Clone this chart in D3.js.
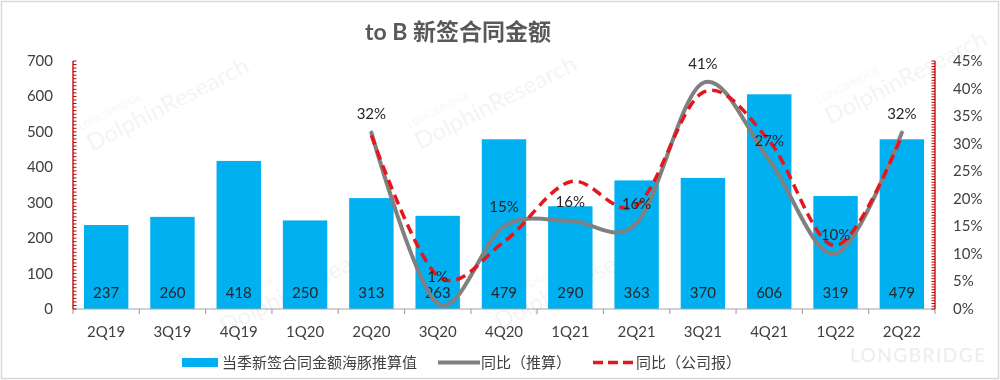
<!DOCTYPE html>
<html>
<head>
<meta charset="utf-8">
<script src="https://cdn.jsdelivr.net/npm/d3@7/dist/d3.min.js"></script>
<style>
  html, body { margin: 0; padding: 0; background: #fff; }
  svg { display: block; font-family: Lato, "Noto Sans CJK SC", sans-serif; }
</style>
</head>
<body>
<svg id="chart" width="1000" height="380"></svg>
<script>
const categories = ["2Q19","3Q19","4Q19","1Q20","2Q20","3Q20","4Q20","1Q21","2Q21","3Q21","4Q21","1Q22","2Q22"];
const contractValues = [237, 260, 418, 250, 313, 263, 479, 290, 363, 370, 606, 319, 479];
const yoyEstimate = [null, null, null, null, 32, 1, 15, 16, 15.6, 41, 27, 10, 32];
const yoyEstimateLabels = [null, null, null, null, "32%", "1%", "15%", "16%", "16%", "41%", "27%", "10%", "32%"];
const yoyReported = [null, null, null, null, 31.5, 6, 12.2, 23.1, 18.8, 39.3, 30.5, 11.5, 31.5];
const leftTicks = [0, 100, 200, 300, 400, 500, 600, 700];
const rightTicks = [0, 5, 10, 15, 20, 25, 30, 35, 40, 45];
const titleText = "to B 新签合同金额";
const legendLabels = ["当季新签合同金额海豚推算值", "同比（推算）", "同比（公司报）"];

const svg = d3.select("#chart");
const L = 73, R = 935, T = 61, B = 309;

// frame
svg.append("rect").attr("x", 1.5).attr("y", 1.5).attr("width", 997).attr("height", 377)
  .attr("fill", "#fff").attr("stroke", "#d9d9d9").attr("stroke-width", 1.5);

// watermarks
const wm = svg.append("g").attr("fill", "#000").attr("opacity", 0.05);
[[92, 152], [420, 150], [830, 125], [225, 335], [500, 330]].forEach(([x, y]) => {
  const g = wm.append("g").attr("transform", `translate(${x},${y}) rotate(-27)`);
  g.append("text").attr("x", 0).attr("y", -24).attr("font-size", 10).attr("letter-spacing", 0.5).text("LONGBRIDGE");
  g.append("text").attr("x", 0).attr("y", 0).attr("font-size", 24).text("DolphinResearch");
});
svg.append("text").attr("x", 850).attr("y", 362).attr("font-size", 19).attr("letter-spacing", 1.5)
  .attr("fill", "#000").attr("opacity", 0.07).text("LONGBRIDGE");

const x = d3.scaleBand().domain(categories).range([L, R]).paddingInner(0.33).paddingOuter(0.165);
const step = x.step();
const yL = d3.scaleLinear().domain([0, 700]).range([B, T]);
const yR = d3.scaleLinear().domain([0, 45]).range([B, T]);
const cx = c => x(c) + x.bandwidth() / 2;

// title
svg.append("text").attr("x", 458).attr("y", 40).attr("text-anchor", "middle")
  .attr("font-size", 23).attr("font-weight", "bold").attr("fill", "#595959").text(titleText);

// bars
svg.append("g").selectAll("rect").data(categories).join("rect")
  .attr("x", d => x(d)).attr("width", x.bandwidth())
  .attr("y", (d, i) => yL(contractValues[i])).attr("height", (d, i) => B - yL(contractValues[i]))
  .attr("fill", "#00b0f0");

// bar value labels
svg.append("g").selectAll("text").data(categories).join("text")
  .attr("x", d => cx(d)).attr("y", 298).attr("text-anchor", "middle")
  .attr("font-size", 15).attr("fill", "#262626")
  .text((d, i) => contractValues[i]);

// x axis
const xa = svg.append("g");
xa.append("line").attr("x1", L).attr("x2", R).attr("y1", B).attr("y2", B).attr("stroke", "#a6a6a6").attr("stroke-width", 1.2);
xa.selectAll("line.t").data(d3.range(categories.length + 1)).join("line").attr("class", "t")
  .attr("x1", i => L + i * step).attr("x2", i => L + i * step).attr("y1", B).attr("y2", B + 5)
  .attr("stroke", "#a6a6a6").attr("stroke-width", 1.2);
xa.selectAll("text").data(categories).join("text")
  .attr("x", d => cx(d)).attr("y", 337).attr("text-anchor", "middle")
  .attr("font-size", 15).attr("fill", "#404040").text(d => d);

// left axis
const la = svg.append("g");
la.append("line").attr("x1", L).attr("x2", L).attr("y1", T).attr("y2", B).attr("stroke", "#c00000").attr("stroke-width", 1.3);
la.selectAll("line.m").data(d3.range(0, 701, 10)).join("line").attr("class", "m")
  .attr("x1", L).attr("x2", L + 3.5).attr("y1", d => yL(d)).attr("y2", d => yL(d))
  .attr("stroke", "#c00000").attr("stroke-width", 1);
la.selectAll("text").data(leftTicks).join("text")
  .attr("x", 53).attr("y", d => yL(d) + 5).attr("text-anchor", "end")
  .attr("font-size", 15).attr("fill", "#404040").text(d => d);

// right axis
const ra = svg.append("g");
ra.append("line").attr("x1", R).attr("x2", R).attr("y1", T).attr("y2", B).attr("stroke", "#c00000").attr("stroke-width", 1.3);
ra.selectAll("line.m").data(d3.range(0, 45.01, 0.5)).join("line").attr("class", "m")
  .attr("x1", R - 3.5).attr("x2", R).attr("y1", d => yR(d)).attr("y2", d => yR(d))
  .attr("stroke", "#c00000").attr("stroke-width", 1);
ra.selectAll("text").data(rightTicks).join("text")
  .attr("x", 953).attr("y", d => yR(d) + 5).attr("text-anchor", "start")
  .attr("font-size", 15).attr("fill", "#404040").text(d => d + "%");

// lines
const grayPts = categories.map((c, i) => [c, yoyEstimate[i]]).filter(d => d[1] != null);
const redPts = categories.map((c, i) => [c, yoyReported[i]]).filter(d => d[1] != null);
const line = d3.line().x(d => cx(d[0])).y(d => yR(d[1])).curve(d3.curveCardinal.tension(0));

svg.append("path").attr("d", line(grayPts)).attr("fill", "none")
  .attr("stroke", "#808080").attr("stroke-width", 4).attr("stroke-linecap", "round");
svg.append("path").attr("d", line(redPts)).attr("fill", "none")
  .attr("stroke", "#e3171d").attr("stroke-width", 3.5).attr("stroke-dasharray", "10,6");

// percentage labels (kept clear of the bar value labels)
svg.append("g").selectAll("text").data(categories.map((c, i) => [c, yoyEstimate[i], yoyEstimateLabels[i]]).filter(d => d[1] != null))
  .join("text")
  .attr("x", d => cx(d[0])).attr("y", d => Math.min(yR(d[1]) - 14, 282)).attr("text-anchor", "middle")
  .attr("font-size", 15).attr("fill", "#262626").text(d => d[2]);

// legend
const lg = svg.append("g");
lg.append("rect").attr("x", 182).attr("y", 358).attr("width", 36).attr("height", 9).attr("fill", "#00b0f0");
lg.append("text").attr("x", 222).attr("y", 368).attr("font-size", 15).attr("fill", "#404040").text(legendLabels[0]);
lg.append("line").attr("x1", 438).attr("x2", 480).attr("y1", 362.5).attr("y2", 362.5).attr("stroke", "#808080").attr("stroke-width", 4);
lg.append("text").attr("x", 481).attr("y", 368).attr("font-size", 15).attr("fill", "#404040").text(legendLabels[1]);
lg.append("line").attr("x1", 593).attr("x2", 634).attr("y1", 362.5).attr("y2", 362.5).attr("stroke", "#e3171d").attr("stroke-width", 3.5).attr("stroke-dasharray", "10,5");
lg.append("text").attr("x", 636).attr("y", 368).attr("font-size", 15).attr("fill", "#404040").text(legendLabels[2]);
</script>
</body>
</html>
